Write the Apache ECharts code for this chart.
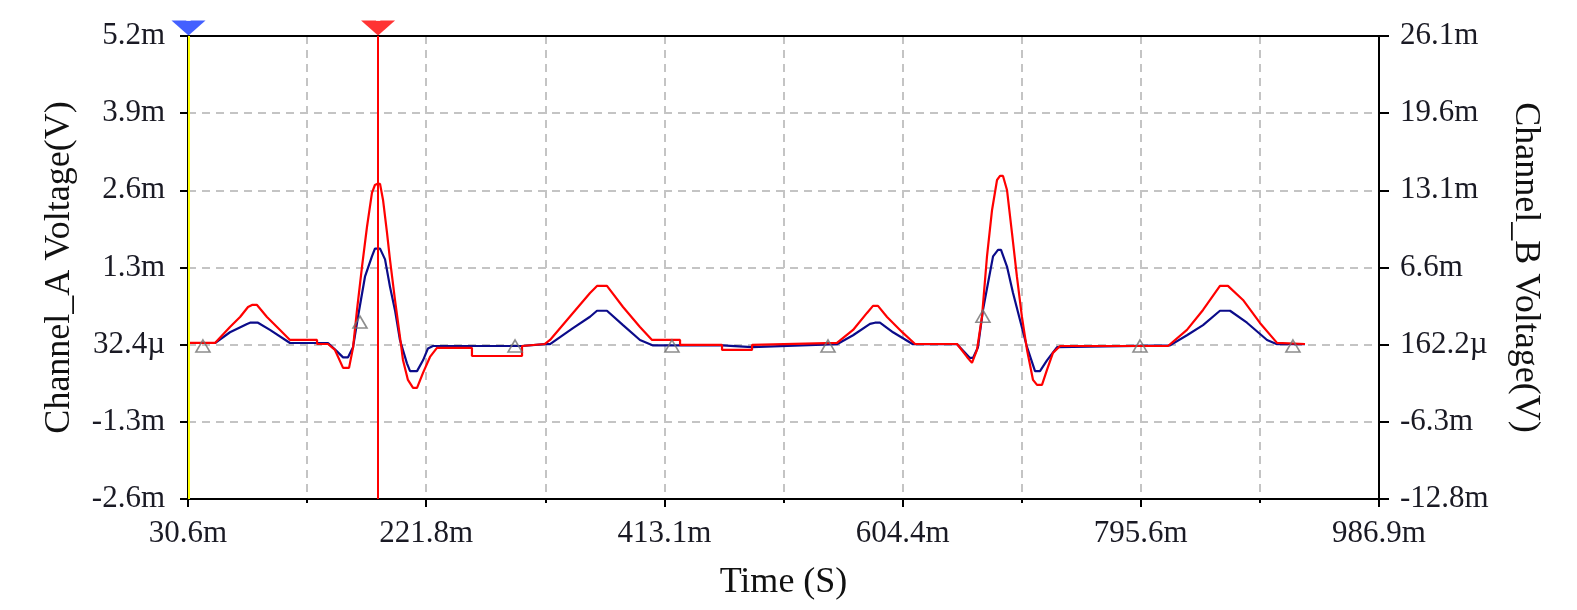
<!DOCTYPE html>
<html>
<head>
<meta charset="utf-8">
<script src="https://cdn.jsdelivr.net/npm/echarts@6/dist/echarts.min.js"></script>
<style>
html,body{margin:0;padding:0;background:#fff;}
#chart{width:1577px;height:610px;}
</style>
</head>
<body>
<div id="chart"></div>
<script>
// ---- Data (time in ms, voltages in mV) ----
// Channel_A (blue trace, left axis)
const blueTime = [30.6,52.3,64.3,78.0,80.4,86.8,96.4,112.5,143.0,150.2,155.1,159.1,163.1,167.1,172.7,178.3,180.7,184.8,188.8,192.8,196.8,200.8,206.4,208.9,214.5,219.3,223.3,227.3,298.8,317.2,321.3,339.7,353.4,359.0,367.0,379.9,393.5,404.0,459.4,459.4,483.5,483.5,551.7,564.6,578.2,582.2,586.2,596.7,612.7,648.1,658.5,660.9,664.9,668.9,673.0,677.0,681.0,683.4,688.2,693.0,698.6,704.3,710.7,714.7,720.3,728.4,819.1,832.7,845.6,859.2,867.3,880.9,897.0,905.0,927.5];
const blueVolt = [0.06,0.06,0.24,0.38,0.40,0.40,0.28,0.06,0.06,-0.08,-0.18,-0.18,-0.01,0.50,1.17,1.51,1.64,1.64,1.46,1.00,0.61,0.11,-0.28,-0.41,-0.41,-0.23,-0.03,0.01,0.01,0.04,0.04,0.31,0.50,0.60,0.60,0.36,0.11,0.02,0.02,-0.01,-0.01,0.02,0.04,0.19,0.38,0.40,0.40,0.24,0.04,0.04,-0.19,-0.19,-0.01,0.61,1.07,1.51,1.62,1.62,1.34,0.90,0.45,-0.01,-0.41,-0.41,-0.23,-0.01,0.02,0.19,0.36,0.60,0.60,0.40,0.11,0.04,0.04];
// Channel_B (red trace, right axis)
const redTime = [30.6,52.3,64.3,72.4,78.8,82.0,86.0,94.0,104.5,112.5,134.2,134.2,143.0,148.6,155.1,159.9,163.1,166.3,170.3,174.3,178.3,180.7,182.4,184.8,187.2,190.4,192.8,196.8,200.8,203.2,207.2,211.3,214.5,219.3,224.9,230.5,258.6,258.6,298.8,298.8,317.2,321.3,339.7,353.4,359.0,367.0,379.9,393.5,403.2,425.7,425.7,459.4,459.4,483.5,483.5,551.7,564.6,575.8,580.6,584.6,591.9,604.7,614.4,648.1,656.1,660.1,664.1,668.1,672.1,676.2,680.2,682.6,685.0,688.2,692.2,696.2,700.2,704.3,709.1,712.3,716.3,720.3,725.1,730.8,817.5,832.7,845.6,859.2,865.6,877.7,891.3,905.0,927.5];
const redVolt = [0.31,0.31,1.65,2.49,3.33,3.50,3.50,2.49,1.40,0.56,0.56,0.22,0.22,-0.28,-1.79,-1.79,-0.11,3.08,6.69,10.05,12.91,13.58,13.67,13.67,12.32,9.55,7.28,3.92,0.81,-1.12,-2.80,-3.47,-3.47,-2.21,-0.87,-0.11,-0.11,-0.79,-0.79,0.05,0.22,0.56,2.83,4.51,5.10,5.10,3.33,1.65,0.56,0.56,0.14,0.14,-0.28,-0.28,0.14,0.31,1.40,2.83,3.42,3.42,2.49,1.15,0.22,0.22,-0.87,-1.37,-0.28,2.49,7.53,11.48,14.00,14.34,14.34,13.16,9.55,5.85,2.49,-0.28,-2.80,-3.22,-3.22,-1.96,-0.53,0.05,0.05,1.40,3.08,5.10,5.10,3.92,1.99,0.31,0.22];
// Trace markers (on Channel_A)
const markerTime = [42.6,168.7,293.2,419.2,544.5,668.9,795.0,917.8];
const markerVolt = [0.01,0.41,0.01,0.01,0.01,0.51,0.01,0.01];
// Cursors
const cursorTime = [31.0,183.2];
const cursorNames = ['2','1'];
// Axis ticks and labels
const xTicks = [30.6,221.8,413.1,604.4,795.6,986.9];
const xLabels = ['30.6m','221.8m','413.1m','604.4m','795.6m','986.9m'];
const xGridTicks = [30.6,126.2,221.8,317.5,413.1,508.7,604.4,700.0,795.6,891.3,986.9];
const yATicks = [-2.5514,-1.2595,0.0324,1.3243,2.6162,3.9081,5.2];
const yALabels = ['-2.6m','-1.3m','32.4\u00b5','1.3m','2.6m','3.9m','5.2m'];
const yBTicks = [-12.807,-6.3226,0.1622,6.6466,13.131,19.6154,26.1];
const yBLabels = ['-12.8m','-6.3m','162.2\u00b5','6.6m','13.1m','19.6m','26.1m'];

function nearestLabel(v, ticks, labels){
  let best = 0, d = Infinity;
  for (let i = 0; i < ticks.length; i++){
    const dd = Math.abs(ticks[i] - v);
    if (dd < d){ d = dd; best = i; }
  }
  return labels[best];
}
const pair = (a, b) => a.map((t, i) => [t, b[i]]);

const FONT = "'Liberation Serif','Times New Roman',serif";
const chart = echarts.init(document.getElementById('chart'), null, {renderer:'canvas'});
const gridDash = {color:'#c4c4c4', width:2, type:[8,6]};

chart.setOption({
  animation:false,
  backgroundColor:'#ffffff',
  grid:{left:188, right:198, top:36, bottom:111, show:false},
  xAxis:[{
    type:'value', min:30.6, max:986.9, position:'bottom',
    name:'Time (S)', nameLocation:'middle', nameGap:66,
    nameTextStyle:{fontFamily:FONT, fontSize:36, color:'#111'},
    axisLine:{show:true, onZero:false, lineStyle:{color:'#000', width:2}},
    axisTick:{show:true, customValues:xGridTicks, length:4, lineStyle:{color:'#000', width:2}},
    axisLabel:{customValues:xTicks, margin:19, fontFamily:FONT, fontSize:31, color:'#1a1a24',
      formatter:v => nearestLabel(v, xTicks, xLabels)},
    splitLine:{show:true, lineStyle:gridDash}
  },{
    type:'value', min:30.6, max:986.9, position:'bottom',
    axisLine:{show:false, onZero:false},
    axisTick:{show:true, customValues:xTicks, length:8, lineStyle:{color:'#000', width:2}},
    axisLabel:{show:false},
    splitLine:{show:false}
  },{
    type:'value', min:30.6, max:986.9, position:'top',
    axisLine:{show:true, onZero:false, lineStyle:{color:'#000', width:2}},
    axisTick:{show:false},
    axisLabel:{show:false},
    splitLine:{show:false}
  }],
  yAxis:[{
    type:'value', min:yATicks[0], max:yATicks[6], position:'left',
    name:'Channel_A Voltage(V)', nameLocation:'middle', nameGap:110,
    nameTextStyle:{fontFamily:FONT, fontSize:36, color:'#111'},
    axisLine:{show:true, onZero:false, lineStyle:{color:'#000', width:2}},
    axisTick:{show:true, customValues:yATicks, length:8, lineStyle:{color:'#000', width:2}},
    axisLabel:{customValues:yATicks, margin:23, fontFamily:FONT, fontSize:31, color:'#1a1a24',
      formatter:v => nearestLabel(v, yATicks, yALabels)},
    splitLine:{show:true, lineStyle:gridDash}
  },{
    type:'value', min:yBTicks[0], max:yBTicks[6], position:'right',
    name:'Channel_B Voltage(V)', nameLocation:'middle', nameGap:128, nameRotate:-90,
    nameTextStyle:{fontFamily:FONT, fontSize:36, color:'#111'},
    axisLine:{show:true, onZero:false, lineStyle:{color:'#000', width:2}},
    axisTick:{show:true, customValues:yBTicks, length:10, lineStyle:{color:'#000', width:2}},
    axisLabel:{customValues:yBTicks, margin:21, fontFamily:FONT, fontSize:31, color:'#1a1a24',
      formatter:v => nearestLabel(v, yBTicks, yBLabels)},
    splitLine:{show:false}
  }],
  series:[{
    name:'Channel_A', type:'line', xAxisIndex:0, yAxisIndex:0,
    data:pair(blueTime, blueVolt), showSymbol:false, symbol:'none',
    lineStyle:{color:'#0b0b8a', width:2.2}, z:3
  },{
    name:'Channel_B', type:'line', xAxisIndex:0, yAxisIndex:1,
    data:pair(redTime, redVolt), showSymbol:false, symbol:'none',
    lineStyle:{color:'#ff0000', width:2.2}, z:4
  },{
    name:'markers', type:'scatter', xAxisIndex:0, yAxisIndex:0,
    data:pair(markerTime, markerVolt), symbol:'triangle', symbolSize:[14,12],
    itemStyle:{color:'rgba(255,255,255,0)', borderColor:'#707070', borderWidth:1.6}, z:5
  },{
    name:'cursors', type:'scatter', xAxisIndex:0, yAxisIndex:0, clip:false,
    data:cursorTime.map((t, i) => ({
      value:[t, yATicks[6]],
      itemStyle:{color: i === 0 ? '#1438ff' : '#ff0000'}
    })),
    symbol:'triangle', symbolRotate:180, symbolSize:[34,15], symbolOffset:[0,-8],
    label:{show:true, position:'inside', offset:[0,-9], color:'#fff', fontSize:9, fontWeight:'bold',
      formatter:p => cursorNames[p.dataIndex]},
    markLine:{
      silent:true, symbol:'none', label:{show:false},
      data:cursorTime.map((t, i) => ({xAxis:t, lineStyle:{color: i === 0 ? '#ffff00' : '#ff0000', width:2, type:'solid'}}))
    },
    z:6
  }]
});
</script>
</body>
</html>
